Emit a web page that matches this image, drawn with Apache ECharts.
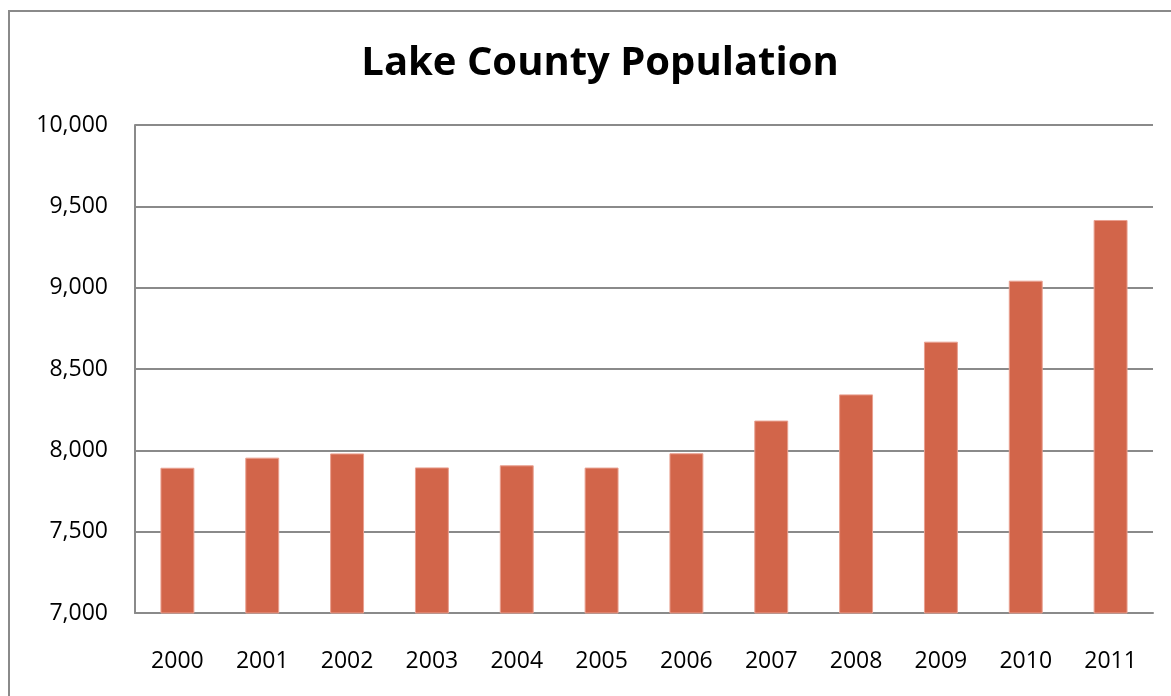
<!DOCTYPE html>
<html><head><meta charset="utf-8">
<script src="https://cdn.jsdelivr.net/npm/echarts@6/dist/echarts.min.js"></script>
<style>html,body{margin:0;padding:0;background:#fff}#c{width:1171px;height:696px}</style>
</head><body><div id="c"></div>
<script>
const years = ['2000','2001','2002','2003','2004','2005','2006','2007','2008','2009','2010','2011'];
const population = [7893, 7955, 7981, 7895, 7908, 7894, 7982, 8183, 8344, 8668, 9043, 9416];
const titleText = 'Lake County Population';
const yMin = 7000, yMax = 10000, yStep = 500;

const chart = echarts.init(document.getElementById('c'), null, {renderer:'canvas'});
chart.setOption({
  backgroundColor: '#fff',
  animation: false,
  title: {
    text: titleText, left: 595, textAlign: 'center', top: 39,
    textStyle: {fontFamily: 'Open Sans', fontWeight: 'bold', fontSize: 40, color: '#000'}
  },
  graphic: [{type:'rect', shape:{x:9, y:11, width:1200, height:720}, style:{fill:'none', stroke:'#8a8a8a', lineWidth:2}}],
  grid: {left: 135, right: 18, top: 125, bottom: 83, containLabel: false},
  xAxis: {
    type: 'category', data: years,
    axisLine: {show: true, lineStyle: {color: '#8a8a8a', width: 2}},
    axisTick: {show: false},
    axisLabel: {fontFamily: 'Open Sans', fontSize: 23, color: '#000', margin: 37}
  },
  yAxis: {
    type: 'value', min: yMin, max: yMax, interval: yStep,
    axisLine: {show: true, lineStyle: {color: '#8a8a8a', width: 2}},
    axisTick: {show: false},
    splitLine: {lineStyle: {color: '#8a8a8a', width: 2}},
    axisLabel: {fontFamily: 'Open Sans', fontSize: 23, color: '#000', margin: 27,
      formatter: v => v.toLocaleString('en-US')}
  },
  series: [{
    type: 'bar', data: population, barWidth: '40%',
    itemStyle: {color: '#D2654A', borderColor: '#E9A090', borderWidth: 1}
  }]
});
</script></body></html>
